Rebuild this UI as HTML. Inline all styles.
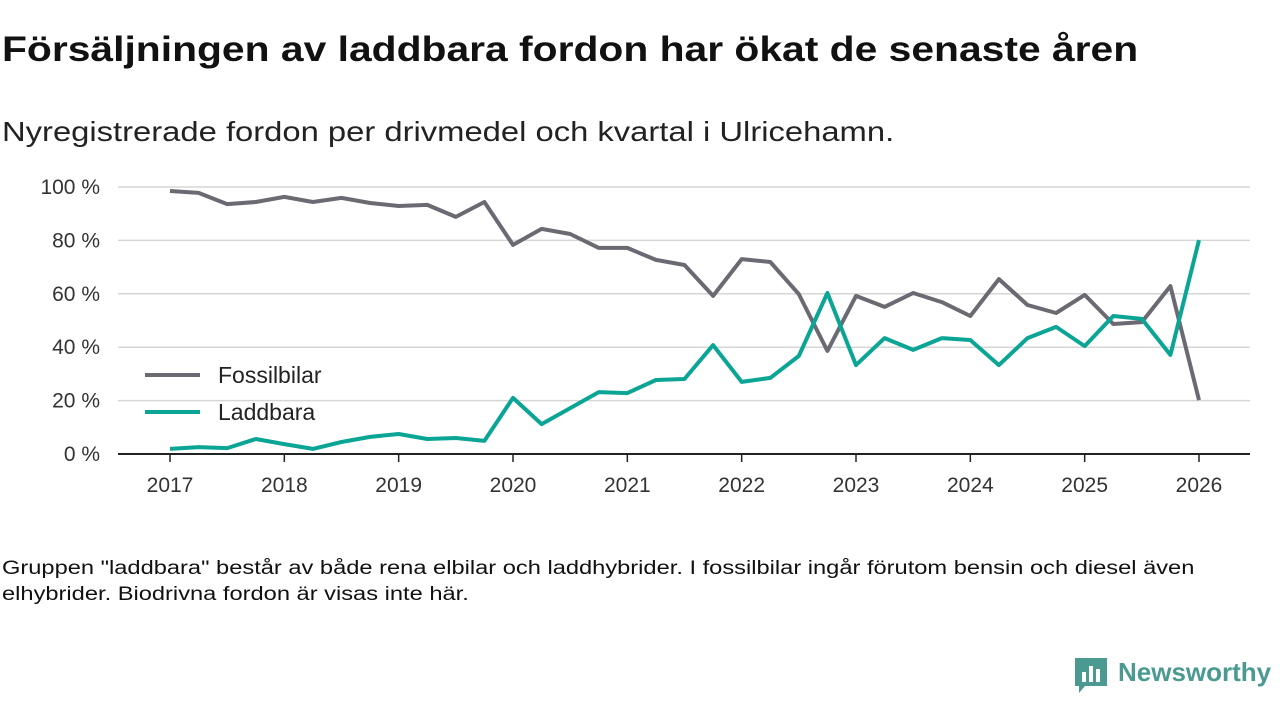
<!DOCTYPE html>
<html><head><meta charset="utf-8"><style>
body{margin:0;width:1280px;height:720px;background:#fff;font-family:"Liberation Sans",sans-serif;overflow:hidden;position:relative}
.t{position:absolute;white-space:nowrap;color:#111;transform-origin:0 0}
</style></head><body>
<div class="t" style="left:2px;top:30px;font-size:35px;font-weight:bold;transform:scaleX(1.166)">Försäljningen av laddbara fordon har ökat de senaste åren</div>
<div class="t" style="left:2px;top:116px;font-size:28px;color:#222;transform:scaleX(1.17)">Nyregistrerade fordon per drivmedel och kvartal i Ulricehamn.</div>
<div class="t" style="left:2px;top:556px;font-size:19px;line-height:26px;white-space:normal;width:970px;color:#111;transform:scaleX(1.245)">Gruppen "laddbara" består av både rena elbilar och laddhybrider. I fossilbilar ingår förutom bensin och diesel även elhybrider. Biodrivna fordon är visas inte här.</div>
<svg width="1280" height="720" style="position:absolute;left:0;top:0" id="chart"></svg>
<div style="position:absolute;left:1073px;top:656px">
<svg width="36" height="38" style="position:absolute;left:0;top:0"><path d="M2 2h32v28H12l-6 7v-7H2z" fill="#4a9a92"/><rect x="9" y="16" width="4" height="10" fill="#fff"/><rect x="16" y="10" width="4" height="16" fill="#fff"/><rect x="23" y="13" width="4" height="13" fill="#fff"/></svg>
<div class="t" style="left:45px;top:1px;font-size:26px;font-weight:bold;color:#4a9a92">Newsworthy</div></div>
<script>
const years=[2017,2018,2019,2020,2021,2022,2023,2024,2025,2026];
const yTicks=[0,20,40,60,80,100];
const fossil=[98.5,97.8,93.6,94.4,96.3,94.4,95.9,94,92.9,93.3,88.8,94.4,78.3,84.3,82.4,77.2,77.2,72.7,70.8,59.2,73,71.9,59.9,38.6,59.2,55.1,60.3,56.9,51.7,65.5,55.8,52.8,59.6,48.7,49.4,62.9,20.2];
const laddbara=[1.9,2.6,2.2,5.6,3.7,1.9,4.5,6.4,7.5,5.6,6,4.9,21,11.2,17.2,23.2,22.8,27.7,28.1,40.8,27,28.5,36.7,60.3,33.3,43.4,39,43.4,42.7,33.3,43.4,47.6,40.4,51.7,50.6,37.1,80.1];
const seriesNames=["Fossilbilar","Laddbara"];
const colors=["#6b6a72","#0aa595"];
const svg=document.getElementById('chart');const NS='http://www.w3.org/2000/svg';
const x=t=>170+(t-2017)*(1199-170)/9;
const y=v=>454-v*(454-187)/100;
function mk(tag,a){const e=document.createElementNS(NS,tag);for(const k in a)e.setAttribute(k,a[k]);svg.appendChild(e);return e;}
yTicks.forEach(v=>{
 const g=mk('line',{x1:118,x2:1250,y1:y(v),y2:y(v),stroke:v===0?'#222':'#d6d6d6','stroke-width':v===0?2:1.5});
 
 
 const t=mk('text',{x:100,y:y(v)+7,'text-anchor':'end','font-size':21,fill:'#333','font-family':'Liberation Sans, sans-serif'});t.textContent=v+' %';
 
 
});
years.forEach(yr=>{
 const l=mk('line',{x1:x(yr),x2:x(yr),y1:454,y2:462,stroke:'#222','stroke-width':1.5});
 
 
 const t=mk('text',{x:x(yr),y:492,'text-anchor':'middle','font-size':21,fill:'#333','font-family':'Liberation Sans, sans-serif'});t.textContent=yr;
 
 
});
[fossil,laddbara].forEach((s,i)=>{
 const p=s.map((v,j)=>x(2017+j/4).toFixed(1)+','+y(v).toFixed(1)).join(' ');
 const pl=mk('polyline',{points:p,fill:'none',stroke:colors[i],'stroke-width':4,'stroke-linejoin':'round'});
 
 
 const ly=375+i*37;
 const ll=mk('line',{x1:145,x2:200,y1:ly,y2:ly,stroke:colors[i],'stroke-width':4});
 
 
 const lt=mk('text',{x:218,y:ly+8,'font-size':23,fill:'#222','font-family':'Liberation Sans, sans-serif'});lt.textContent=seriesNames[i];
 
 
});
</script>
</body></html>
